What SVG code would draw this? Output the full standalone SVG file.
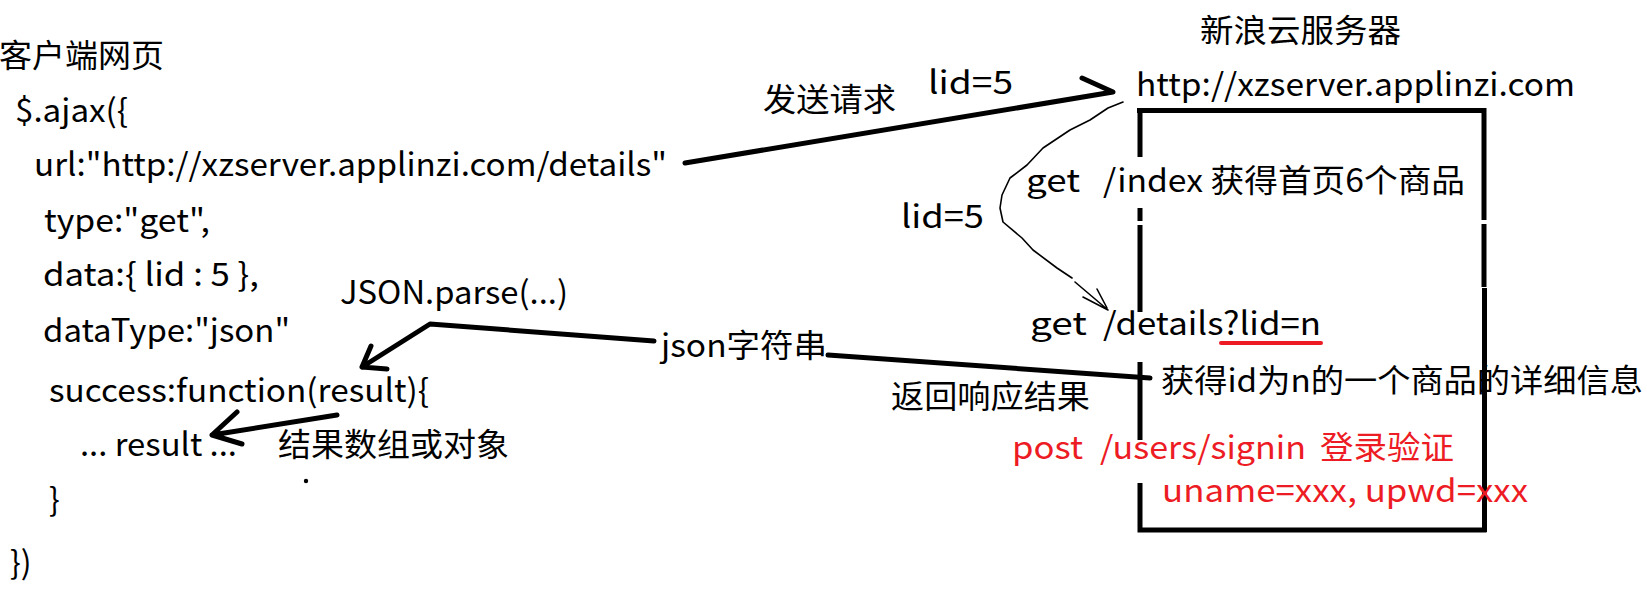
<svg xmlns="http://www.w3.org/2000/svg" width="1647" height="614" viewBox="0 0 1647 614">
<style>
text{font-family:"Noto Sans CJK SC","Noto Sans",sans-serif;font-size:32px;fill:#000}
.r{fill:#ED1C24}
.k{stroke:#000;stroke-width:5;fill:none;stroke-linecap:round;stroke-linejoin:round}
.bx{stroke:#000;stroke-width:5;fill:none;stroke-linecap:butt}
.thin{stroke:#000;stroke-width:1.6;fill:none;stroke-linejoin:round;stroke-linecap:round}
</style>
<rect width="1647" height="614" fill="#fff"/>
<g id="client">
<text x="-1" y="67" textLength="165" lengthAdjust="spacingAndGlyphs">客户端网页</text>
<text x="15" y="122" textLength="113" lengthAdjust="spacingAndGlyphs">$.ajax({</text>
<text x="34" y="176" textLength="633" lengthAdjust="spacingAndGlyphs">url:"http://xzserver.applinzi.com/details"</text>
<text x="44" y="232" textLength="166" lengthAdjust="spacingAndGlyphs">type:"get",</text>
<text x="43" y="286" textLength="216" lengthAdjust="spacingAndGlyphs">data:{ lid : 5 },</text>
<text x="43" y="342" textLength="247" lengthAdjust="spacingAndGlyphs">dataType:"json"</text>
<text x="49" y="402" textLength="380" lengthAdjust="spacingAndGlyphs">success:function(result){</text>
<text x="80" y="456" textLength="157" lengthAdjust="spacingAndGlyphs">... result ...</text>
<text x="49" y="511">}</text>
<text x="10" y="574">})</text>
</g>
<g id="server">
<text x="1200" y="42" textLength="201" lengthAdjust="spacingAndGlyphs">新浪云服务器</text>
<text x="1136" y="96" textLength="439" lengthAdjust="spacingAndGlyphs">http://xzserver.applinzi.com</text>
<path class="bx" d="M1137,110.5 H1484 M1140,108 V157 M1140,208 V221 M1140,225 V312 M1140,362 V440 M1140,483 V530 M1137.5,530 H1486.5 M1484,108 V220 M1484,224 V287 M1484.5,288 V532"/>
<text x="1026" y="192" textLength="54" lengthAdjust="spacingAndGlyphs">get</text>
<text x="1103" y="192" textLength="362" lengthAdjust="spacingAndGlyphs">/index 获得首页6个商品</text>
<text x="1030" y="335" textLength="57" lengthAdjust="spacingAndGlyphs">get</text>
<text x="1103" y="335" textLength="218" lengthAdjust="spacingAndGlyphs">/details?lid=n</text>
<line x1="1221" y1="343" x2="1321" y2="343" stroke="#ED1C24" stroke-width="4" stroke-linecap="round"/>
<text x="1161" y="392" textLength="482" lengthAdjust="spacingAndGlyphs">获得id为n的一个商品的详细信息</text>
<text class="r" x="1012" y="459" textLength="71" lengthAdjust="spacingAndGlyphs">post</text>
<text class="r" x="1100" y="459" textLength="206" lengthAdjust="spacingAndGlyphs">/users/signin</text>
<text class="r" x="1320" y="459" textLength="134" lengthAdjust="spacingAndGlyphs">登录验证</text>
<text class="r" x="1162" y="502" textLength="366" lengthAdjust="spacingAndGlyphs">uname=xxx, upwd=xxx</text>
</g>
<g id="connectors">
<path class="k" d="M685,163 L1113,92 L1082,78"/>
<polyline class="thin" points="1123,102 1108,108 1090,120 1070,130 1043,148 1027,165 1010,178 1002,195 1000,208 1003,222 1022,238 1033,250 1057,268 1072,278"/>
<path class="thin" d="M1075,282 L1108,310 M1083,297 L1108,310 M1097,289 L1107,308"/>
<path class="k" d="M828,355 L1150,378"/>
<path class="k" d="M654,341 L430,324 L362,367 M371,346 L362,367 L387,369"/>
<path class="k" d="M337,415 L212,435 M237,412 L212,435 L242,444"/>
<circle cx="306" cy="481" r="2.2" fill="#000"/>
</g>
<g id="labels">
<text x="763" y="111" textLength="133" lengthAdjust="spacingAndGlyphs">发送请求</text>
<text x="928" y="94" textLength="85" lengthAdjust="spacingAndGlyphs">lid=5</text>
<text x="901" y="228" textLength="83" lengthAdjust="spacingAndGlyphs">lid=5</text>
<text x="340" y="304" textLength="228" lengthAdjust="spacingAndGlyphs">JSON.parse(...)</text>
<text x="661" y="357" textLength="166" lengthAdjust="spacingAndGlyphs">json字符串</text>
<text x="891" y="408" textLength="199" lengthAdjust="spacingAndGlyphs">返回响应结果</text>
<text x="278" y="456" textLength="231" lengthAdjust="spacingAndGlyphs">结果数组或对象</text>
</g>
</svg>
